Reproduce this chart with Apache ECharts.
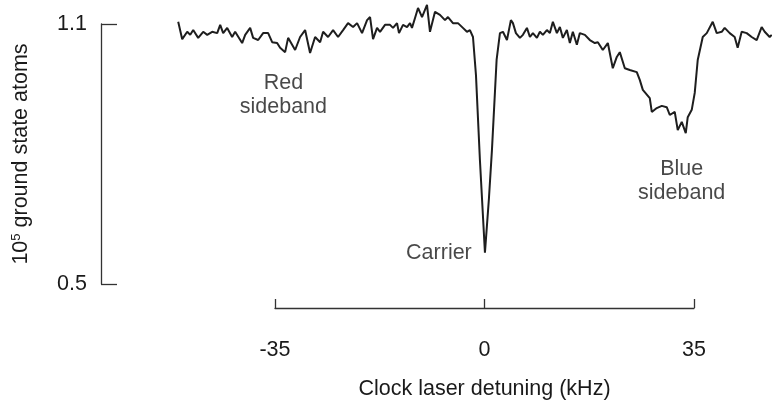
<!DOCTYPE html>
<html><head><meta charset="utf-8">
<script src="https://cdn.jsdelivr.net/npm/echarts@6/dist/echarts.min.js"></script>
<style>html,body{margin:0;padding:0;background:#fff}#c{width:772px;height:405px}</style>
</head><body><div id="c"></div>
<script>
// Clock laser detuning (kHz)
const detuning = [
-51.29,-50.62,-49.78,-49.28,-48.78,-47.95,-47.11,-46.44,-45.61,-44.77,
-44.27,-43.77,-43.10,-42.27,-41.77,-40.60,-40.09,-39.26,-38.76,-37.92,
-37.09,-36.25,-35.58,-34.75,-34.25,-33.41,-32.91,-31.74,-30.91,-30.07,
-29.24,-28.40,-27.56,-27.06,-26.23,-25.39,-24.56,-23.72,-22.89,-22.05,
-21.38,-20.55,-19.71,-19.21,-18.71,-18.04,-17.54,-16.71,-15.87,-15.37,
-14.70,-14.37,-13.70,-13.03,-12.53,-12.20,-11.69,-11.19,-10.52,-9.69,
-9.19,-8.35,-7.52,-6.68,-6.18,-5.35,-4.51,-3.68,-3.01,-2.51,
-2.00,-1.50,-0.84,0,0.67,1.17,1.95,2.51,
3.01,3.68,4.34,4.68,5.18,5.85,6.35,7.02,7.52,8.02,
8.69,9.19,9.69,10.36,10.86,11.36,12.03,12.53,13.03,13.70,
14.20,14.70,15.37,15.87,16.71,17.54,18.38,18.88,19.71,20.55,
21.38,22.05,22.55,23.39,24.22,25.39,25.89,26.40,27.56,27.90,
28.73,29.57,30.40,30.91,31.74,32.24,32.91,33.58,33.91,34.58,
35.08,35.58,36.42,37.09,38.09,38.76,39.59,40.09,40.93,41.76,
42.26,42.93,43.77,44.60,45.44,46.27,46.78,47.61,47.95
];
// 10^5 ground state atoms
const atoms = [
1.105,1.065,1.082,1.075,1.086,1.068,1.082,1.075,1.082,1.079,
1.098,1.079,1.091,1.070,1.082,1.056,1.075,1.091,1.068,1.063,
1.079,1.079,1.058,1.056,1.045,1.035,1.068,1.040,1.070,1.086,
1.033,1.070,1.058,1.082,1.070,1.086,1.070,1.086,1.102,1.093,
1.102,1.079,1.109,1.116,1.065,1.091,1.082,1.098,1.098,1.091,
1.102,1.079,1.098,1.093,1.102,1.091,1.114,1.137,1.116,1.144,
1.082,1.128,1.121,1.109,1.116,1.102,1.102,1.091,1.082,1.086,
1.070,0.982,0.786,0.572,0.698,0.809,1.017,1.079,
1.082,1.063,1.109,1.102,1.079,1.068,1.075,1.091,1.070,1.079,
1.068,1.082,1.075,1.086,1.079,1.105,1.079,1.093,1.068,1.086,
1.056,1.082,1.052,1.079,1.075,1.063,1.056,1.058,1.040,1.056,
0.998,1.024,1.035,0.998,0.994,0.989,0.971,0.948,0.929,0.897,
0.906,0.911,0.908,0.890,0.897,0.855,0.874,0.848,0.885,0.902,
0.941,1.017,1.070,1.079,1.105,1.079,1.082,1.091,1.079,1.070,
1.045,1.082,1.079,1.070,1.063,1.093,1.082,1.070,1.075
];
const xTicks = [-35, 0, 35];
const yTicks = [0.5, 1.1];
// full horizontal extent of the plotting area, in kHz
const plotXRange = [-64.2, 48.0];
const annoText = ['Red\nsideband', 'Carrier', 'Blue\nsideband'];
const annoX = [-33.7, -2.2, 32.9];
const annoY = [0.936, 0.572, 0.738];
const annoAlign = ['center', 'right', 'center'];

const FONT = "'Liberation Sans', Arial, Helvetica, sans-serif";
const TXT = '#1a1a1a';
const AX = '#333';
const FS = 21.5;

const chart = echarts.init(document.getElementById('c'), null, {renderer: 'canvas'});
chart.setOption({
  animation: false,
  backgroundColor: '#fff',
  textStyle: {fontFamily: FONT, color: TXT},
  grid: [
    {left: 101, right: 0, top: 24, bottom: 121, containLabel: false},
    {left: 275, right: 78, top: 24, bottom: 94, containLabel: false}
  ],
  xAxis: [
    {
      gridIndex: 0, type: 'value', min: plotXRange[0], max: plotXRange[1], show: false,
      axisLine: {show: false, onZero: false}, axisTick: {show: false}, axisLabel: {show: false}, splitLine: {show: false}
    },
    {
      gridIndex: 1, type: 'value', min: xTicks[0], max: xTicks[2], interval: 35,
      name: 'Clock laser detuning (kHz)', nameLocation: 'middle', nameGap: 70,
      nameTextStyle: {fontSize: FS, color: TXT, fontFamily: FONT},
      axisLine: {show: true, onZero: false, lineStyle: {color: AX, width: 1.3}},
      axisTick: {show: true, inside: true, length: 9, lineStyle: {color: AX, width: 1.3}},
      axisLabel: {show: true, margin: 31, fontSize: FS, color: TXT, fontFamily: FONT},
      splitLine: {show: false}
    }
  ],
  yAxis: [
    {
      gridIndex: 0, type: 'value', min: yTicks[0], max: yTicks[1],
      name: '{a|10}{s|5}{a| ground state atoms}', nameLocation: 'middle', nameGap: 68, nameRotate: 90,
      nameTextStyle: {
        rich: {
          a: {fontSize: FS, color: TXT, fontFamily: FONT},
          s: {fontSize: 13, color: TXT, fontFamily: FONT, verticalAlign: 'top', padding: [0, 0, 10, 0]}
        }
      },
      axisLine: {show: true, onZero: false, lineStyle: {color: AX, width: 1.3}},
      axisTick: {show: true, inside: true, length: 16, customValues: yTicks, lineStyle: {color: AX, width: 1.3}},
      axisLabel: {show: true, margin: 14, fontSize: FS, color: TXT, fontFamily: FONT, customValues: yTicks,
        formatter: v => v.toFixed(1)},
      splitLine: {show: false}
    },
    {
      gridIndex: 1, type: 'value', min: 0, max: 1, show: false,
      axisLine: {show: false, onZero: false}, axisTick: {show: false}, axisLabel: {show: false}, splitLine: {show: false}
    }
  ],
  series: [
    {
      type: 'line', xAxisIndex: 0, yAxisIndex: 0, clip: false, showSymbol: false, symbol: 'none', silent: true,
      lineStyle: {color: '#1e1e1e', width: 2},
      data: detuning.map((d, i) => [d, atoms[i]])
    },
    {
      type: 'scatter', xAxisIndex: 0, yAxisIndex: 0, symbolSize: 0, silent: true, clip: false,
      data: annoText.map((t, i) => ({
        value: [annoX[i], annoY[i]],
        label: {show: true, position: 'inside', formatter: t, align: annoAlign[i], verticalAlign: 'middle',
          fontSize: FS, lineHeight: 24, color: TXT, fontFamily: FONT}
      }))
    }
  ]
});
</script>
</body></html>
